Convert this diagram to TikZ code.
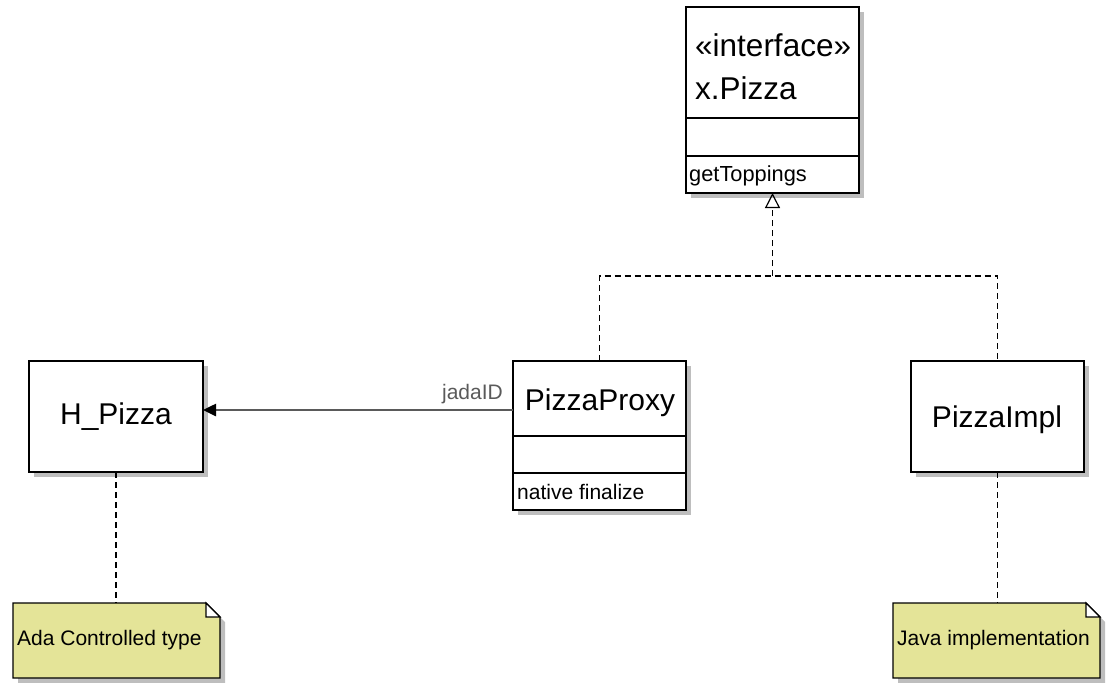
\documentclass[tikz,border=0pt]{standalone}
\usepackage{fontspec}
\setmainfont{Liberation Sans}
\usetikzlibrary{arrows.meta,shadows}
\definecolor{notefill}{RGB}{228,228,152}
\definecolor{shadowgray}{RGB}{190,190,190}
\definecolor{assoc}{RGB}{90,90,90}
\tikzset{
  cls/.style={draw=black, line width=1.4pt, fill=white, inner sep=0pt, outer sep=0pt, anchor=north west,
    general shadow={fill=shadowgray, shadow xshift=5pt, shadow yshift=-5pt}},
  notebox/.style={draw=none, fill=none, inner sep=0pt, outer sep=0pt, anchor=north west},
  bigtxt/.style={inner sep=0pt, font=\fontsize{30}{34}\selectfont},
  ifacetxt/.style={inner sep=0pt, font=\fontsize{31.5}{35}\selectfont},
  smalltxt/.style={inner sep=0pt, font=\fontsize{21}{24}\selectfont},
  dashedline/.style={line width=1.3pt, dash pattern=on 6pt off 4pt},
  sepline/.style={line width=1.4pt}
}
\begin{document}
\begin{tikzpicture}[x=1pt,y=-1pt]
\useasboundingbox (0,0) rectangle (1107,682);
% classes
\node[cls, minimum width=173pt, minimum height=186pt] (xpizza) at (686,7) {};
\node[cls, minimum width=173pt, minimum height=149pt] (proxy) at (513,361) {};
\node[cls, minimum width=174pt, minimum height=111pt] (hpizza) at (29,361) {};
\node[cls, minimum width=173pt, minimum height=111pt] (impl) at (911,361) {};
% compartments
\draw[sepline] (xpizza.west |- 0,118) -- (xpizza.east |- 0,118);
\draw[sepline] (xpizza.west |- 0,156) -- (xpizza.east |- 0,156);
\draw[sepline] (proxy.west |- 0,436) -- (proxy.east |- 0,436);
\draw[sepline] (proxy.west |- 0,473) -- (proxy.east |- 0,473);
% texts
\node[ifacetxt, anchor=west] (stereo) at (695,45) {«interface»};
\node[ifacetxt, anchor=west] (xname) at (695,88) {x.Pizza};
\node[smalltxt, anchor=west, font=\fontsize{21.8}{24}\selectfont] (ops1) at (689,176) {getToppings};
\node[bigtxt] (pname) at (600,403) {PizzaProxy};
\node[smalltxt, anchor=west] (ops2) at (517,492) {native finalize};
\node[bigtxt] (hname) at (116,417) {H\_Pizza};
\node[bigtxt] (iname) at (997,420) {PizzaImpl};
% notes
\node[notebox, minimum width=207pt, minimum height=75pt] (note1) at (13,603) {};
\node[notebox, minimum width=207pt, minimum height=75pt] (note2) at (893,603) {};
\foreach \n in {note1,note2}{
  \fill[shadowgray] ([shift={(5pt,-5pt)}]\n.north west) -- ([shift={(-9pt,-5pt)}]\n.north east) -- ([shift={(5pt,-19pt)}]\n.north east) -- ([shift={(5pt,-5pt)}]\n.south east) -- ([shift={(5pt,-5pt)}]\n.south west) -- cycle;
  \draw[line width=1.3pt, fill=notefill] (\n.north west) -- ([xshift=-14pt]\n.north east) -- ([yshift=-14pt]\n.north east) -- (\n.south east) -- (\n.south west) -- cycle;
  \draw[line width=1.1pt, fill=white] ([xshift=-14pt]\n.north east) |- ([yshift=-14pt]\n.north east) -- cycle;
}
\node[smalltxt, anchor=west] (n1txt) at (17,640) {Ada Controlled type};
\node[smalltxt, anchor=west] (n2txt) at (897,640) {Java implementation};
% realization
\coordinate (junction) at (772.5,276);
\draw[dashedline] (proxy.north) |- (junction) -| (impl.north);
\draw[dashedline, -{Triangle[open, length=15pt, width=15pt, line width=1.2pt]}] (junction) -- (xpizza.south);
% association
\draw[assoc, line width=2.5pt, -{Triangle[length=13pt, width=12pt, color=black]}] (proxy.west |- 0,410) -- (hpizza.east |- 0,410);
\node[smalltxt, text=assoc, anchor=base east] (role) at (503,399) {jadaID};
% note links
\draw[dashedline] (hpizza.south) -- (note1.north -| hpizza.south);
\draw[dashedline] (impl.south) -- (note2.north -| impl.south);
\end{tikzpicture}
\end{document}
